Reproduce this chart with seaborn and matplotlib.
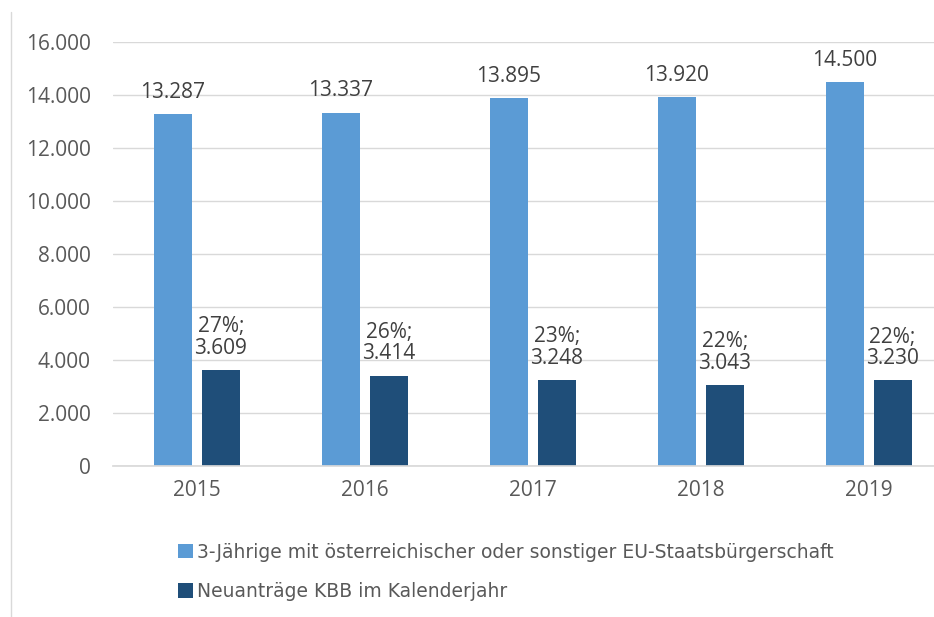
import matplotlib
matplotlib.use("Agg")
import matplotlib.pyplot as plt
import seaborn as sns
import pandas as pd

# 데이터
jahre = ["2015", "2016", "2017", "2018", "2019"]
kinder_3j = [13287, 13337, 13895, 13920, 14500]
neuantraege = [3609, 3414, 3248, 3043, 3230]
anteil = ["27%", "26%", "23%", "22%", "22%"]

serie_a = "3-Jährige mit österreichischer oder sonstiger EU-Staatsbürgerschaft"
serie_b = "Neuanträge KBB im Kalenderjahr"

df = pd.DataFrame({
    "Jahr": jahre * 2,
    "Wert": kinder_3j + neuantraege,
    "Serie": [serie_a] * len(jahre) + [serie_b] * len(jahre),
})

sns.set_theme(style="white")
plt.rcParams["font.family"] = ["Open Sans", "DejaVu Sans"]

fig = plt.figure(figsize=(9.34, 6.17), dpi=100)
ax = fig.add_axes([0.121, 0.2447, 0.899, 0.6872])

sns.barplot(data=df, x="Jahr", y="Wert", hue="Serie", ax=ax,
            palette=["#5B9BD5", "#1F4E79"], width=0.571, gap=0.2,
            saturation=1, linewidth=0, legend=True)

ax.set_ylim(0, 16000)
ax.set_yticks(range(0, 16001, 2000))
ax.set_yticklabels([f"{v:,}".replace(",", ".") for v in range(0, 16001, 2000)])
ax.yaxis.grid(True, color="#D9D9D9", linewidth=1)
ax.set_axisbelow(True)
for s in ["top", "right", "left"]:
    ax.spines[s].set_visible(False)
ax.spines["bottom"].set_color("#D9D9D9")
ax.set_xlabel("")
ax.set_ylabel("")
ax.tick_params(axis="both", length=0, labelsize=15, colors="#595959")
ax.tick_params(axis="y", pad=16)
ax.tick_params(axis="x", pad=10)

# Beschriftungen
c_a, c_b = ax.containers[0], ax.containers[1]
for bar, v in zip(c_a, kinder_3j):
    ax.annotate(f"{v:,}".replace(",", "."),
                (bar.get_x() + bar.get_width() / 2, bar.get_height()),
                xytext=(0, 8), textcoords="offset points",
                ha="center", va="bottom", fontsize=15, color="#404040")
for bar, v, p in zip(c_b, neuantraege, anteil):
    ax.annotate(f"{p};\n" + f"{v:,}".replace(",", "."),
                (bar.get_x() + bar.get_width() / 2, bar.get_height()),
                xytext=(0, 8), textcoords="offset points",
                ha="center", va="bottom", fontsize=15, color="#404040",
                linespacing=1.05)

handles, labels = ax.get_legend_handles_labels()
ax.get_legend().remove()
fig.legend(handles, labels, loc="upper left", bbox_to_anchor=(0.172, 0.148),
           frameon=False, handlelength=0.8, handleheight=0.8, handletextpad=0.25,
           labelspacing=1.1, prop={"family": "DejaVu Sans", "size": 13.5},
           labelcolor="#595959")

# linker Rahmen
fig.add_artist(plt.Line2D([11 / 934, 11 / 934], [0, 1 - 12 / 617],
                          color="#D9D9D9", linewidth=1, transform=fig.transFigure))

fig.savefig("out.png", dpi=100)
